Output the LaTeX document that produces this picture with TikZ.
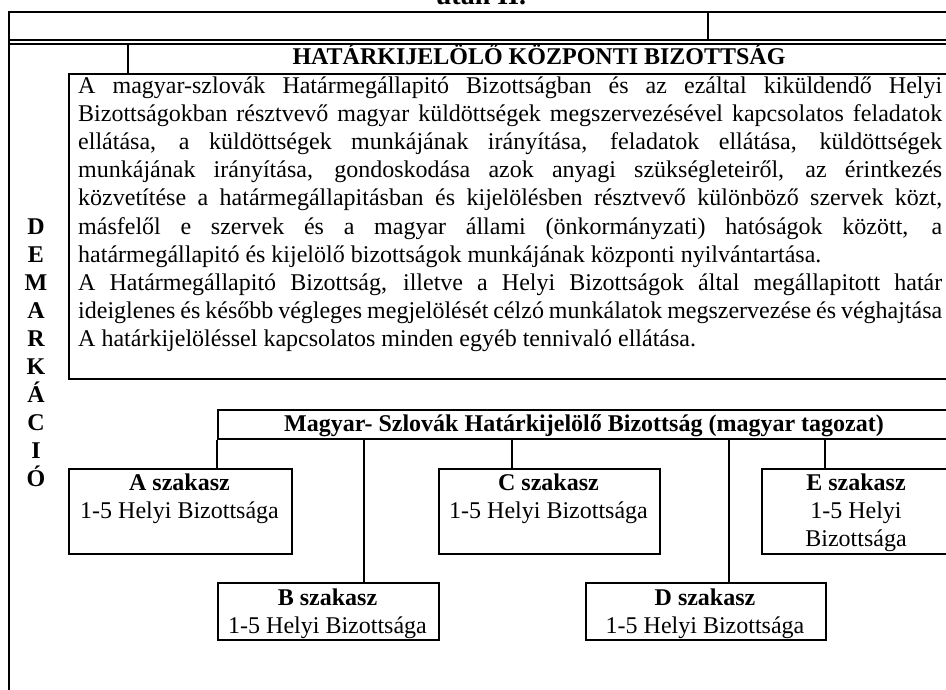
\documentclass[tikz,border=0pt]{standalone}
\usepackage{fontspec}
\setmainfont{Liberation Serif}
\begin{document}
\begin{tikzpicture}[x=1pt,y=-1pt,
  frame/.style={line width=1.8pt},
  thin/.style={line width=1.4pt},
  sbox/.style={draw, line width=1.8pt, rectangle, inner sep=0pt, anchor=north west},
  body/.style={font=\fontsize{24}{28}\selectfont, inner sep=0pt, anchor=base west},
  bold/.style={font=\fontsize{24}{28}\selectfont\bfseries, inner sep=0pt, anchor=base},
  reg/.style={font=\fontsize{24}{28}\selectfont, inner sep=0pt, anchor=base},
  conn/.style={line width=1.8pt}]
\useasboundingbox (0,0) rectangle (946,690);
% title (cut off at top)
\node[font=\fontsize{28}{30}\selectfont\bfseries, inner sep=0pt, anchor=base] (title) at (481,5) {után II.};
% table frame
\draw[frame] (9,695) -- (9,12) -- (955,12);
\draw[thin] (9,40) -- (955,40);
\draw[thin] (9,44) -- (955,44);
\draw[frame] (708,12) -- (708,40);
\draw[frame] (128,44) -- (128,73);
% heading
\node[bold] (head) at (539,65) {HATÁRKIJELÖLŐ KÖZPONTI BIZOTTSÁG};
% text box
\node[sbox, minimum width=890, minimum height=305] (T) at (68,73) {};
\node[body] (t1) at (78,94) {\makebox[864pt][s]{A magyar-szlovák Határmegállapitó Bizottságban és az ezáltal kiküldendő Helyi}};
\node[body] (t2) at (78,122) {\makebox[864pt][s]{Bizottságokban résztvevő magyar küldöttségek megszervezésével kapcsolatos feladatok}};
\node[body] (t3) at (78,150) {\makebox[864pt][s]{ellátása, a küldöttségek munkájának irányítása, feladatok ellátása, küldöttségek}};
\node[body] (t4) at (78,178) {\makebox[864pt][s]{munkájának irányítása, gondoskodása azok anyagi szükségleteiről, az érintkezés}};
\node[body] (t5) at (78,206) {\makebox[864pt][s]{közvetítése a határmegállapitásban és kijelölésben résztvevő különböző szervek közt,}};
\node[body] (t6) at (78,234) {\makebox[864pt][s]{másfelől e szervek és a magyar állami (önkormányzati) hatóságok között, a}};
\node[body] (t7) at (78,262) {határmegállapitó és kijelölő bizottságok munkájának központi nyilvántartása.};
\node[body] (t8) at (78,290) {\makebox[864pt][s]{A Határmegállapitó Bizottság, illetve a Helyi Bizottságok által megállapitott határ}};
\node[body] (t9) at (78,318) {\makebox[864pt][s]{ideiglenes és később végleges megjelölését célzó munkálatok megszervezése és véghajtása}};
\node[body] (t10) at (78,346) {A határkijelöléssel kapcsolatos minden egyéb tennivaló ellátása.};
% vertical word
\foreach \l [count=\i from 0] in {D,E,M,A,R,K,Á,C,I,Ó}
  \node[bold] (L\i) at (36,{234+28*\i}) {\l};
% Magyar box
\node[sbox, minimum width=740, minimum height=29] (MB) at (217,409) {};
\node[bold] (MBt) at (584,431) {Magyar- Szlovák Határkijelölő Bizottság (magyar tagozat)};
% section boxes
\node[sbox, minimum width=223, minimum height=85] (A) at (68,468) {};
\node[bold] (Ah) at (179.5,490) {A szakasz};
\node[reg] (Ab) at (179.5,518) {1-5 Helyi Bizottsága};
\node[sbox, minimum width=221, minimum height=57] (B) at (217,582) {};
\node[bold] (Bh) at (327.5,605) {B szakasz};
\node[reg] (Bb) at (327.5,633) {1-5 Helyi Bizottsága};
\node[sbox, minimum width=221, minimum height=85] (C) at (438,468) {};
\node[bold] (Ch) at (548.5,490) {C szakasz};
\node[reg] (Cb) at (548.5,518) {1-5 Helyi Bizottsága};
\node[sbox, minimum width=240, minimum height=57] (D) at (585,582) {};
\node[bold] (Dh) at (705,605) {D szakasz};
\node[reg] (Db) at (705,633) {1-5 Helyi Bizottsága};
\node[sbox, minimum width=191, minimum height=85] (E) at (761,468) {};
\node[bold] (Eh) at (856,490) {E szakasz};
\node[reg] (Eb1) at (856,518) {1-5 Helyi};
\node[reg] (Eb2) at (856,546) {Bizottsága};
% connectors
\coordinate (xb) at (364,0);
\coordinate (xc) at (512,0);
\coordinate (xd) at (729,0);
\coordinate (xe) at (825,0);
\draw[conn] (MB.south west) -- (MB.south west |- A.north);
\draw[conn] (MB.south -| xb) -- (B.north -| xb);
\draw[conn] (MB.south -| xc) -- (C.north -| xc);
\draw[conn] (MB.south -| xd) -- (D.north -| xd);
\draw[conn] (MB.south -| xe) -- (E.north -| xe);
\end{tikzpicture}
\end{document}
